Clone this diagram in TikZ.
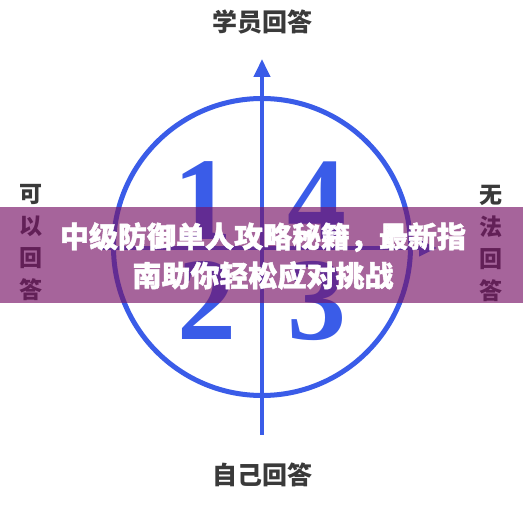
\documentclass[tikz,border=0pt]{standalone}
\usepackage{fontspec}
\newfontfamily\cjk{Noto Sans CJK SC}
\newfontfamily\cjkheavy{Noto Sans CJK SC}[BoldFeatures={FakeBold=1.6}]
\newfontfamily\numfont{Liberation Serif}
\usetikzlibrary{arrows.meta}
\definecolor{axisblue}{RGB}{58,92,232}
\definecolor{labelgray}{RGB}{58,58,58}
\definecolor{bannercol}{RGB}{120,20,103}
\tikzset{
  axis/.style={draw=axisblue, line width=4pt},
  tipped/.style={-{Triangle[width=16pt,length=18pt]}},
  digit/.style={text=axisblue, font=\numfont\bfseries\fontsize{118}{118}\selectfont, inner sep=0pt, anchor=base},
  hlabel/.style={text=labelgray, font=\cjk\bfseries\fontsize{25}{30}\selectfont, inner sep=0pt},
  vlabel/.style={text=labelgray, font=\cjk\bfseries\fontsize{23}{32}\selectfont, inner sep=0pt, align=center},
  bannertext/.style={text=white, font=\cjkheavy\bfseries\fontsize{29}{39}\selectfont, inner sep=0pt, align=center}
}
\begin{document}
\begin{tikzpicture}[x=1pt,y=-1pt]
\useasboundingbox (0,0) rectangle (523,510);
% circle
\node[circle, draw=axisblue, line width=5pt, minimum size=297pt, inner sep=0pt] (circ) at (262,247) {};
% axes
\coordinate (vbot) at (262,435);
\coordinate (vtop) at (262,59);
\coordinate (hleft) at (100,248);
\coordinate (hright) at (437,248);
\draw[axis, tipped] (vbot) -- (vtop);
\draw[axis, tipped] (hleft) -- (hright);
% digits
\node[digit] (d1) at (203,240) {1};
\node[digit] (d4) at (317,240) {4};
\node[digit] (d2) at (207,340) {2};
\node[digit] (d3) at (317,340) {3};
% labels
\node[hlabel] (top) at (262,22) {学员回答};
\node[hlabel] (bottom) at (262,475) {自己回答};
\node[vlabel] (left) at (31,243) {可\\以\\回\\答};
\node[vlabel] (right) at (491,243) {无\\法\\回\\答};
% banner
\fill[bannercol, opacity=0.66] (0,207) rectangle (523,303);
\node[bannertext] (title) at (263,256) {中级防御单人攻略秘籍，最新指\\南助你轻松应对挑战};
\end{tikzpicture}
\end{document}
